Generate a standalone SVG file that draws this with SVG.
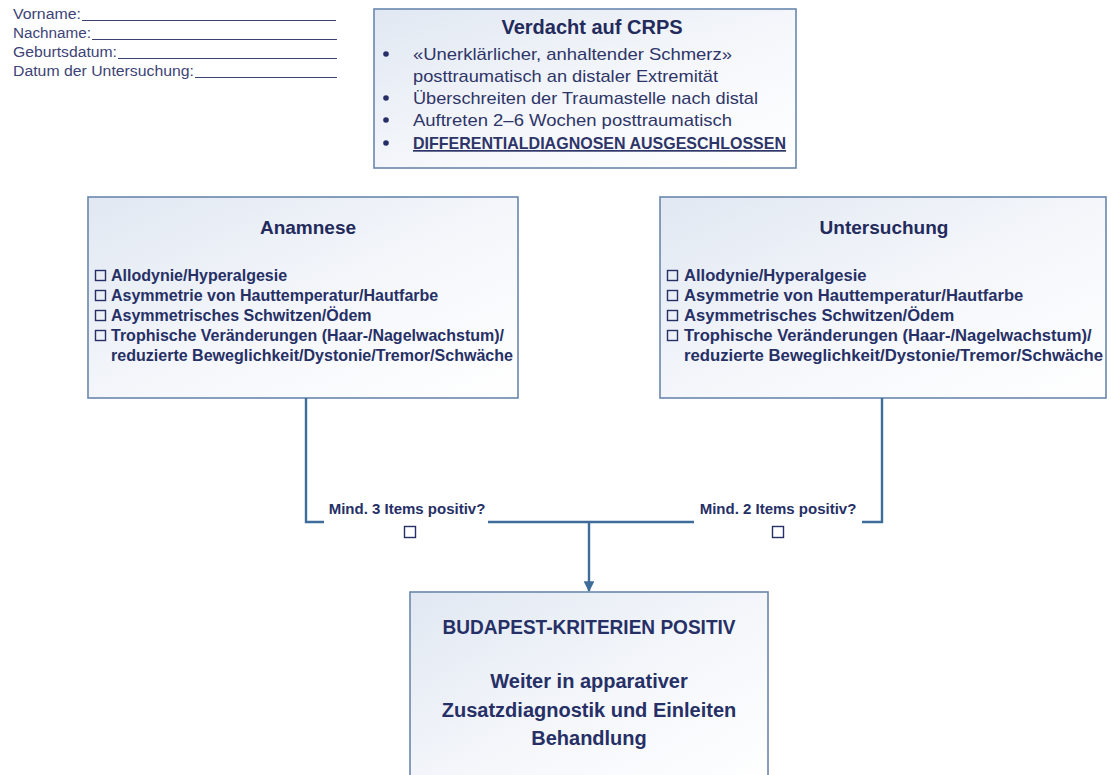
<svg xmlns="http://www.w3.org/2000/svg" width="1111" height="775" viewBox="0 0 1111 775">
  <defs>
    <linearGradient id="boxFill" x1="0" y1="0" x2="1" y2="1">
      <stop offset="0" stop-color="#e1e8f2"/>
      <stop offset="0.55" stop-color="#f5f7fb"/>
      <stop offset="1" stop-color="#ffffff"/>
    </linearGradient>
    <marker id="arrow" viewBox="0 0 10 10" refX="9" refY="5" markerWidth="4.5" markerHeight="4.5" orient="auto" markerUnits="strokeWidth">
      <path d="M0,0 L10,5 L0,10 z" fill="#3f6d9a"/>
    </marker>
    <style>
      .box { fill: url(#boxFill); stroke: #6a88ad; stroke-width: 1.6; }
      .hdr { font-family: "Liberation Sans", Arial, sans-serif; font-size: 14px; fill: #3d4377; }
      .rule { stroke: #3c4170; stroke-width: 1.1; }
      .title { font-family: "Liberation Sans", Arial, sans-serif; font-weight: bold; fill: #232a5c; text-anchor: middle; }
      .bul { font-family: "Liberation Sans", Arial, sans-serif; font-size: 17px; fill: #2e3568; }
      .item { font-family: "Liberation Sans", Arial, sans-serif; font-weight: bold; font-size: 16px; fill: #263066; }
      .item-r { font-size: 16.6px; }
      .chk { fill: none; stroke: #263066; stroke-width: 1.4; }
      .dot { fill: #263066; }
      .conn { fill: none; stroke: #3f6d9a; stroke-width: 2.4; }
      .q { font-family: "Liberation Sans", Arial, sans-serif; font-weight: bold; font-size: 15px; fill: #263066; text-anchor: middle; }
      .big { font-family: "Liberation Sans", Arial, sans-serif; font-weight: bold; font-size: 20px; fill: #263066; text-anchor: middle; }
    </style>
  </defs>
  <rect width="1111" height="775" fill="#ffffff"/>

  <!-- patient data fields -->
  <g id="header">
    <text class="hdr" x="13" y="19" textLength="68" lengthAdjust="spacingAndGlyphs">Vorname:</text>
    <line class="rule" x1="82" y1="20.5" x2="336" y2="20.5"/>
    <text class="hdr" x="13" y="38" textLength="78" lengthAdjust="spacingAndGlyphs">Nachname:</text>
    <line class="rule" x1="92" y1="39.5" x2="337" y2="39.5"/>
    <text class="hdr" x="13" y="57" textLength="104" lengthAdjust="spacingAndGlyphs">Geburtsdatum:</text>
    <line class="rule" x1="118" y1="58.5" x2="337" y2="58.5"/>
    <text class="hdr" x="13" y="76" textLength="181" lengthAdjust="spacingAndGlyphs">Datum der Untersuchung:</text>
    <line class="rule" x1="195" y1="77.5" x2="337" y2="77.5"/>
  </g>

  <!-- suspicion box -->
  <g id="verdacht">
    <rect class="box" x="374" y="9" width="422" height="159" stroke="#8fa6c4"/>
    <text class="title" x="592" y="34" font-size="20">Verdacht auf CRPS</text>
    <circle class="dot" cx="386" cy="54" r="2.8"/>
    <text class="bul" x="413" y="60" textLength="319" lengthAdjust="spacingAndGlyphs">«Unerklärlicher, anhaltender Schmerz»</text>
    <text class="bul" x="413" y="82" textLength="305" lengthAdjust="spacingAndGlyphs">posttraumatisch an distaler Extremität</text>
    <circle class="dot" cx="386" cy="98" r="2.8"/>
    <text class="bul" x="413" y="104" textLength="345" lengthAdjust="spacingAndGlyphs">Überschreiten der Traumastelle nach distal</text>
    <circle class="dot" cx="386" cy="120" r="2.8"/>
    <text class="bul" x="413" y="126" textLength="319" lengthAdjust="spacingAndGlyphs">Auftreten 2–6 Wochen posttraumatisch</text>
    <circle class="dot" cx="386" cy="143" r="2.8"/>
    <text class="bul" x="413" y="149" font-weight="bold" text-decoration="underline" textLength="373" lengthAdjust="spacingAndGlyphs">DIFFERENTIALDIAGNOSEN AUSGESCHLOSSEN</text>
  </g>

  <!-- history box -->
  <g id="anamnese">
    <rect class="box" x="88" y="197" width="430" height="201"/>
    <text class="title" x="308" y="234" font-size="19">Anamnese</text>
    <rect class="chk" x="95.5" y="270.5" width="10" height="10"/>
    <text class="item" x="111" y="281">Allodynie/Hyperalgesie</text>
    <rect class="chk" x="95.5" y="290.5" width="10" height="10"/>
    <text class="item" x="111" y="301">Asymmetrie von Hauttemperatur/Hautfarbe</text>
    <rect class="chk" x="95.5" y="310.5" width="10" height="10"/>
    <text class="item" x="111" y="321">Asymmetrisches Schwitzen/Ödem</text>
    <rect class="chk" x="95.5" y="330.5" width="10" height="10"/>
    <text class="item" x="111" y="341">Trophische Veränderungen (Haar-/Nagelwachstum)/</text>
    <text class="item" x="111" y="361" textLength="402" lengthAdjust="spacingAndGlyphs">reduzierte Beweglichkeit/Dystonie/Tremor/Schwäche</text>
  </g>

  <!-- examination box -->
  <g id="untersuchung">
    <rect class="box" x="660" y="197" width="446" height="201"/>
    <text class="title" x="884" y="234" font-size="19">Untersuchung</text>
    <rect class="chk" x="667.5" y="270.5" width="10" height="10"/>
    <text class="item item-r" x="684" y="281">Allodynie/Hyperalgesie</text>
    <rect class="chk" x="667.5" y="290.5" width="10" height="10"/>
    <text class="item item-r" x="684" y="301">Asymmetrie von Hauttemperatur/Hautfarbe</text>
    <rect class="chk" x="667.5" y="310.5" width="10" height="10"/>
    <text class="item item-r" x="684" y="321">Asymmetrisches Schwitzen/Ödem</text>
    <rect class="chk" x="667.5" y="330.5" width="10" height="10"/>
    <text class="item item-r" x="684" y="341">Trophische Veränderungen (Haar-/Nagelwachstum)/</text>
    <text class="item item-r" x="684" y="361" textLength="419" lengthAdjust="spacingAndGlyphs">reduzierte Beweglichkeit/Dystonie/Tremor/Schwäche</text>
  </g>

  <!-- connectors -->
  <g id="connectors">
    <polyline class="conn" points="306,398 306,522 324,522"/>
    <polyline class="conn" points="882,398 882,522 862,522"/>
    <line class="conn" x1="488" y1="522" x2="694" y2="522"/>
    <line class="conn" x1="589" y1="522" x2="589" y2="591" marker-end="url(#arrow)"/>
  </g>

  <!-- threshold checks -->
  <g id="check-anamnese">
    <text class="q" x="407" y="514">Mind. 3 Items positiv?</text>
    <rect class="chk" x="404.5" y="526.5" width="11" height="11"/>
  </g>
  <g id="check-untersuchung">
    <text class="q" x="778" y="514">Mind. 2 Items positiv?</text>
    <rect class="chk" x="772.5" y="526.5" width="11" height="11"/>
  </g>

  <!-- result box -->
  <g id="budapest">
    <rect class="box" x="410" y="592" width="358" height="200"/>
    <text class="big" x="589" y="634" textLength="293" lengthAdjust="spacingAndGlyphs">BUDAPEST-KRITERIEN POSITIV</text>
    <text class="big" x="589" y="688">Weiter in apparativer</text>
    <text class="big" x="589" y="717">Zusatzdiagnostik und Einleiten</text>
    <text class="big" x="589" y="745">Behandlung</text>
  </g>
</svg>
